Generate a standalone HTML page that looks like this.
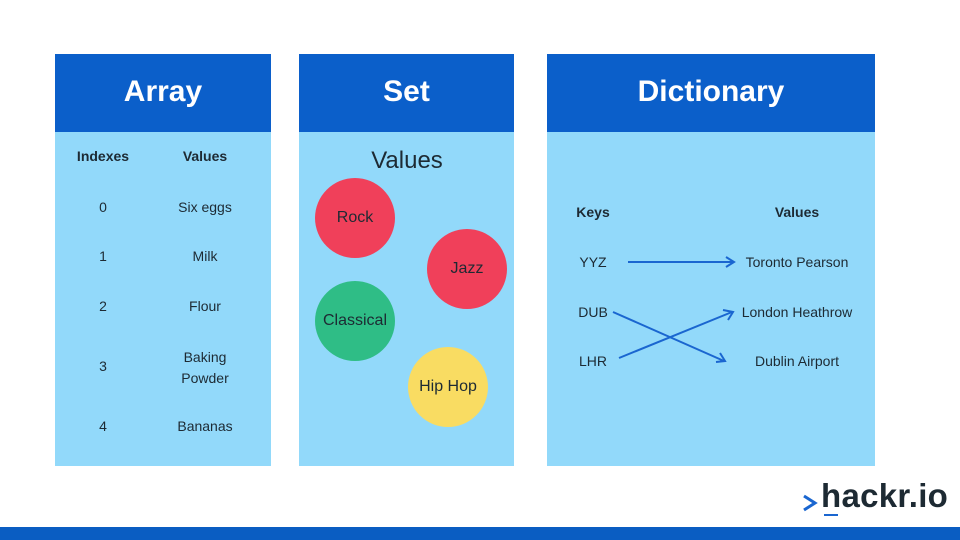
<!DOCTYPE html>
<html><head><style>
body{margin:0;width:960px;height:540px;background:#fff;position:relative;overflow:hidden;font-family:"Liberation Sans",sans-serif;color:#1d2a33}
.p{position:absolute;top:54px;height:412px;background:#92d9fa}
.h{position:absolute;left:0;right:0;top:0;height:78px;background:#0b5fca;color:#fff;font-size:30px;font-weight:bold;text-align:center;line-height:76px}
.t{position:absolute;font-size:14px;text-align:center;transform:translateX(-50%);white-space:nowrap}
.b{font-weight:bold}
.c{position:absolute;border-radius:50%;width:80px;height:80px;font-size:16px;text-align:center;line-height:80px}
</style></head><body>
<div class="p" style="left:55px;width:216px"><div class="h">Array</div></div>
<div class="p" style="left:299px;width:215px"><div class="h">Set</div></div>
<div class="p" style="left:547px;width:328px"><div class="h">Dictionary</div></div>

<div class="t b" style="left:103px;top:148px">Indexes</div>
<div class="t b" style="left:205px;top:148px">Values</div>
<div class="t" style="left:103px;top:199px">0</div><div class="t" style="left:205px;top:199px">Six eggs</div>
<div class="t" style="left:103px;top:248px">1</div><div class="t" style="left:205px;top:248px">Milk</div>
<div class="t" style="left:103px;top:298px">2</div><div class="t" style="left:205px;top:298px">Flour</div>
<div class="t" style="left:103px;top:358px">3</div><div class="t" style="left:205px;top:347px;line-height:21px">Baking<br>Powder</div>
<div class="t" style="left:103px;top:418px">4</div><div class="t" style="left:205px;top:418px">Bananas</div>

<div class="t" style="left:407px;top:147px;font-size:24px">Values</div>
<div class="c" style="left:315px;top:178px;background:#f0405a">Rock</div>
<div class="c" style="left:427px;top:229px;background:#f0405a">Jazz</div>
<div class="c" style="left:315px;top:281px;background:#2fbd86">Classical</div>
<div class="c" style="left:408px;top:347px;background:#f9dc62">Hip Hop</div>

<div class="t b" style="left:593px;top:204px">Keys</div>
<div class="t b" style="left:797px;top:204px">Values</div>
<div class="t" style="left:593px;top:254px">YYZ</div>
<div class="t" style="left:593px;top:304px">DUB</div>
<div class="t" style="left:593px;top:353px">LHR</div>
<div class="t" style="left:797px;top:254px">Toronto Pearson</div>
<div class="t" style="left:797px;top:304px">London Heathrow</div>
<div class="t" style="left:797px;top:353px">Dublin Airport</div>
<svg style="position:absolute;left:0;top:0" width="960" height="540">
<g stroke="#1a66d0" stroke-width="2" fill="none">
<line x1="628" y1="262" x2="733" y2="262"/><polyline points="726,257 734,262 726,267"/>
<line x1="613" y1="312" x2="724" y2="361"/><polyline points="716,362 725,361 720,353"/>
<line x1="619" y1="358" x2="732" y2="312"/><polyline points="723,310 733,312 728,320"/>
</g>
<polyline points="804,496 815,503 804,510" stroke="#1a66d0" stroke-width="3" fill="none"/>
<line x1="824" y1="515" x2="838" y2="515" stroke="#1a66d0" stroke-width="2"/>
</svg>
<div style="position:absolute;left:821px;top:477px;font-size:33px;font-weight:bold;color:#1d2a33;letter-spacing:0.3px">hackr.io</div>
<div style="position:absolute;left:0;top:527px;width:960px;height:13px;background:#0a5dc2"></div>
</body></html>
